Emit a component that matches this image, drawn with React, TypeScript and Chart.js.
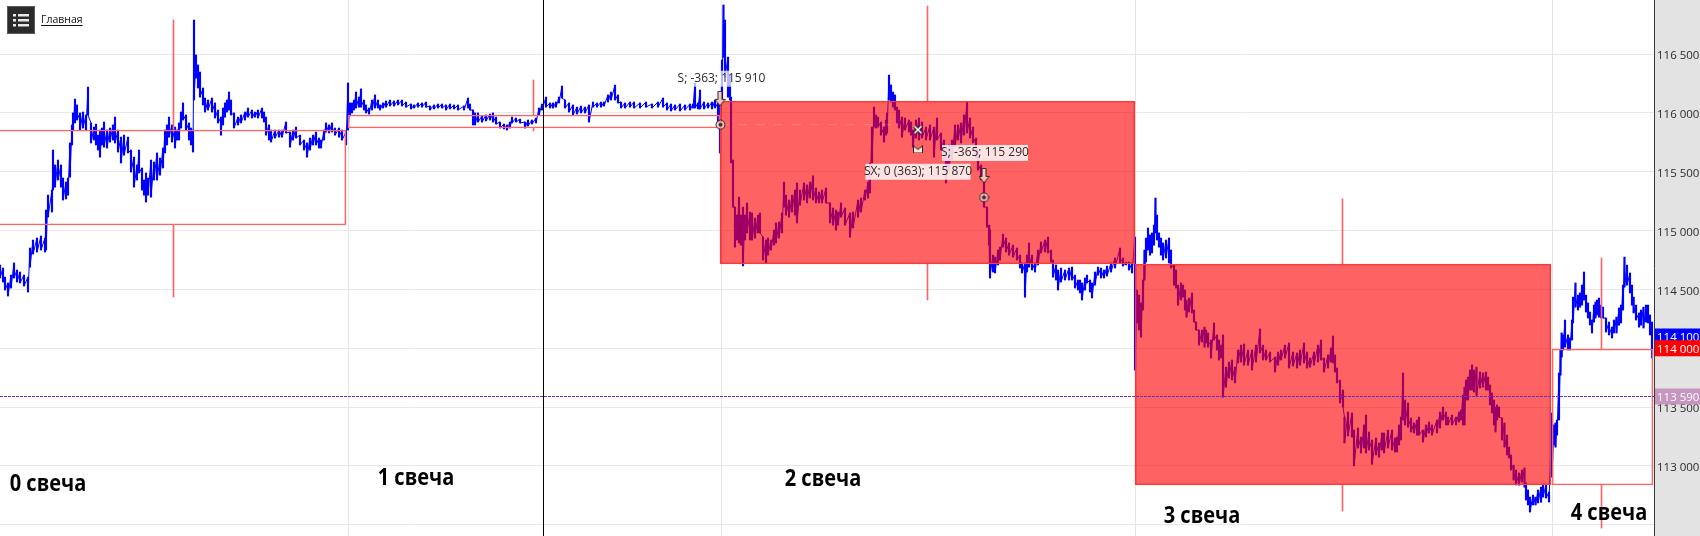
import React, { useEffect, useRef } from "react";
import { Chart, registerables } from "chart.js";

Chart.register(...registerables);

// [time, high, low]
const candle0Trace = [[0,114708,114597],[3,114682,114563],[5,114605,114495],[8,114555,114444],[11,114622,114512],[14,114725,114597],[17,114665,114563],[20,114648,114555],[24,114622,114529],[28,114605,114478],[30,114852,114690],[33,114920,114801],[37,114937,114818],[41,114954,114835],[45,114937,114818],[46,115175,114835],[48,115302,115116],[52,115345,115158],[53,115685,115345],[55,115558,115370],[58,115600,115430],[61,115558,115370],[63,115447,115260],[66,115413,115269],[68,115447,115302],[70,115745,115455],[72,115898,115728],[73,116000,115855],[75,116118,115915],[77,116068,115940],[80,116000,115855],[83,116008,115872],[86,115983,115855],[88,116220,115983],[91,115915,115745],[94,115880,115770],[96,115905,115728],[98,115812,115685],[100,115855,115625],[102,115872,115728],[104,115923,115710],[107,115855,115702],[110,115872,115753],[113,115898,115770],[115,115965,115745],[118,115855,115668],[121,115795,115575],[124,115812,115642],[128,115795,115660],[131,115685,115498],[134,115625,115370],[137,115558,115430],[139,115685,115490],[142,115532,115345],[144,115430,115302],[146,115490,115243],[148,115447,115302],[151,115600,115285],[154,115583,115430],[157,115660,115430],[160,115617,115472],[163,115702,115532],[165,115855,115660],[167,115898,115728],[169,115965,115795],[172,115898,115753],[175,115880,115702],[177,115855,115770],[179,115915,115770],[181,116008,115872],[183,116085,115940],[186,115983,115855],[189,115915,115770],[191,115872,115728],[193,115855,115668],[194,116790,116110],[196,116493,116297],[198,116408,116212],[200,116348,116135],[203,116212,116068],[205,116127,116008],[208,116110,116025],[212,116127,116008],[215,116085,115957],[218,116025,115915],[221,115965,115812],[223,116042,115898],[225,116085,115965],[227,116110,116008],[229,116178,116025],[231,116110,115983],[234,116000,115872],[238,115965,115898],[241,115983,115915],[245,116008,115940],[248,116042,115965],[252,116025,115957],[255,116008,115965],[258,116025,115957],[262,116042,115957],[264,116008,115923],[266,115965,115812],[269,115898,115770],[271,115855,115753],[275,115855,115787],[279,115855,115795],[282,115855,115795],[286,115923,115830],[290,115838,115710],[293,115855,115770],[296,115880,115787],[300,115812,115728],[304,115770,115685],[307,115745,115625],[310,115787,115685],[313,115812,115728],[316,115838,115728],[319,115787,115702],[321,115770,115702],[324,115855,115770],[326,115915,115838],[329,115898,115830],[332,115915,115838],[335,115872,115812],[339,115872,115795],[342,115855,115770],[346,115838,115728]];

const candle1Trace = [[348,116255,115855],[350,116085,115975],[352,116085,116000],[354,116110,116025],[356,116178,116042],[359,116135,116050],[361,116204,116050],[364,116110,116025],[366,116068,116000],[369,116042,115991],[372,116110,116025],[375,116153,116042],[378,116110,116042],[380,116068,116025],[383,116085,116042],[386,116102,116050],[390,116110,116059],[394,116102,116059],[398,116110,116068],[402,116110,116059],[406,116093,116050],[411,116076,116034],[414,116068,116042],[418,116085,116050],[422,116085,116050],[426,116093,116050],[430,116059,116025],[434,116068,116034],[438,116076,116042],[442,116076,116042],[446,116068,116025],[450,116076,116034],[454,116068,116034],[458,116068,116025],[464,116059,116025],[468,116127,116042],[470,116076,116025],[473,116025,115898],[475,116000,115898],[478,116000,115923],[482,115974,115923],[486,115983,115932],[490,115991,115940],[493,116000,115923],[496,115965,115906],[500,115923,115872],[504,115906,115864],[507,115898,115855],[510,115923,115872],[512,115965,115915],[516,115957,115923],[520,115948,115915],[525,115923,115872],[528,115940,115889],[532,115940,115906],[536,115957,115915],[539,116042,115983],[542,116076,116025],[546,116135,116050],[550,116085,116042],[553,116085,116042],[556,116093,116050],[559,116135,116085],[562,116229,116127],[565,116110,116042],[569,116085,116008],[573,116068,115983],[577,116050,115991],[581,116059,116000],[585,116050,116000],[589,116068,115923],[593,116093,116050],[597,116085,116050],[601,116093,116050],[604,116093,116059],[608,116153,116093],[611,116178,116110],[615,116237,116110],[618,116153,116085],[621,116093,116042],[625,116085,116042],[630,116093,116050],[634,116093,116042],[640,116085,116042],[646,116093,116050],[652,116076,116042],[658,116093,116050],[663,116127,116050],[667,116085,116025],[671,116076,116017],[675,116068,116025],[680,116076,116017],[685,116068,116025],[690,116076,116025],[693,116076,116042],[695,116255,116042],[698,116085,116034],[700,116195,116034],[704,116093,116034],[708,116085,116042],[712,116093,116034],[715,116110,116042],[718,116085,115923]];

const candle2Trace = [[720,116135,115660],[722,116450,116110],[723.5,116918,116475],[725,116790,116305],[728,116475,116135],[730,116322,116110],[731,116135,115575],[733,115600,115200],[735,115200,114860],[737,115132,114920],[739,115285,114895],[741,115132,114877],[743,115200,114700],[745,115132,114920],[747,115235,114980],[750,115158,114920],[752,115150,114920],[755,115107,114937],[758,115132,114980],[760,115150,114980],[763,114945,114750],[766,114920,114725],[768,114937,114792],[771,114920,114835],[774,115005,114877],[776,115065,114895],[779,115073,114937],[782,115150,114980],[784,115413,115200],[786,115302,115132],[789,115260,115115],[792,115302,115158],[795,115345,115132],[797,115405,115065],[800,115345,115217],[804,115405,115260],[807,115388,115235],[810,115413,115277],[813,115465,115260],[816,115362,115235],[819,115328,115235],[822,115345,115235],[826,115362,115235],[830,115235,115065],[833,115192,115047],[836,115175,115005],[838,115158,115047],[841,115235,115115],[845,115192,115047],[850,115150,114945],[853,115158,115022],[858,115260,115115],[861,115277,115158],[865,115345,115260],[868,115413,115277],[870,115575,115320],[872,115880,115575],[874,116050,115880],[876,115983,115872],[878,115965,115880],[881,115923,115812],[884,115880,115753],[886,115940,115812],[887,116000,115830],[889,116322,116110],[891,116238,116093],[893,116178,116050],[895,116153,116025],[897,116050,115915],[899,116025,115872],[902,115965,115795],[905,115957,115855],[909,115940,115838],[911,115923,115812],[913,115855,115710],[916,115940,115787],[919,115957,115770],[922,115923,115787],[926,115880,115770],[930,115898,115770],[934,115880,115625],[937,115957,115770],[941,115830,115685],[944,115770,115600],[946,115685,115405],[949,115728,115515],[952,115770,115600],[955,115898,115710],[958,115898,115770],[961,115915,115745],[964,115983,115812],[967,116093,115830],[970,115957,115787],[973,115880,115745],[976,115787,115617],[978,115685,115515],[981,115558,115430],[984,115455,115200],[987,115200,115030],[989,115047,114877],[990,115005,114597],[993,114792,114648],[995,114775,114640],[998,114835,114708],[1000,114860,114750],[1003,114970,114860],[1006,114937,114818],[1009,114895,114792],[1013,114877,114775],[1017,114852,114750],[1020,114792,114682],[1022,114725,114640],[1025,114725,114435],[1027,114792,114648],[1029,114895,114690],[1032,114792,114665],[1035,114725,114648],[1038,114835,114708],[1041,114903,114810],[1045,114920,114818],[1048,114945,114810],[1051,114835,114733],[1053,114750,114605],[1056,114708,114580],[1058,114665,114495],[1061,114682,114563],[1065,114665,114580],[1069,114682,114580],[1072,114690,114580],[1075,114622,114512],[1078,114580,114495],[1080,114580,114470],[1082,114555,114410],[1085,114597,114495],[1087,114622,114555],[1090,114580,114478],[1092,114555,114427],[1095,114648,114537],[1098,114690,114622],[1101,114682,114597],[1104,114665,114597],[1107,114699,114614],[1111,114725,114648],[1115,114767,114682],[1120,114852,114725],[1123,114767,114699],[1126,114733,114708],[1129,114733,114665],[1132,114725,114640]];

const candle3Trace = [[1135,114945,113815],[1137,114495,114215],[1139,114452,114155],[1141,114385,114095],[1143,114580,114325],[1144.5,114835,114580],[1146,114937,114733],[1148,115022,114835],[1150,114963,114792],[1152,114980,114810],[1154,115047,114877],[1155.5,115277,114980],[1157,115132,114920],[1159,114980,114860],[1161,114937,114792],[1163,114895,114750],[1166,114920,114767],[1169,114937,114725],[1171,114835,114682],[1174,114707,114537],[1176,114665,114512],[1178,114537,114367],[1181,114555,114410],[1183,114537,114435],[1185,114495,114325],[1186.5,114410,114265],[1189,114427,114308],[1192,114470,114300],[1194,114325,114223],[1196,114223,114155],[1199,114155,114027],[1202,114155,114053],[1204.5,114180,114010],[1206,114155,114045],[1208,114130,114010],[1211,114070,113917],[1214,114215,114070],[1217,114113,113985],[1219,114070,113900],[1221,114027,113917],[1223,114113,113585],[1226,113840,113670],[1229,113883,113747],[1232,113900,113730],[1235,113840,113705],[1238,113985,113875],[1241,114027,113883],[1244,114036,113857],[1248,113985,113857],[1252,113985,113815],[1256,114027,113883],[1260,114164,113960],[1263,114027,113900],[1266,113985,113900],[1270,113968,113883],[1275,113925,113798],[1278,113968,113857],[1281,113985,113900],[1285,114027,113917],[1289,114045,113832],[1293,113968,113849],[1297,113960,113832],[1300,113985,113857],[1304,114045,113875],[1307,113968,113832],[1310,113917,113840],[1314,113968,113857],[1318,114027,113883],[1321,114070,113900],[1324,113917,113798],[1328,113943,113832],[1331,114002,113883],[1333,114104,113875],[1335,113943,113798],[1337,113832,113705],[1340,113730,113535],[1343,113645,113500],[1344.5,113415,113195],[1348,113458,113254],[1352,113450,113245],[1354,113305,113000],[1358,113322,113152],[1361,113245,113110],[1364,113348,113152],[1366,113432,113110],[1369,113288,113135],[1372,113220,113015],[1376,113237,113093],[1379,113195,113075],[1382,113280,113135],[1384,113280,113110],[1388,113305,113152],[1392,113305,113135],[1395,113237,113118],[1397,113245,113118],[1399,113348,113178],[1401,113415,113220],[1403,113790,113390],[1405,113560,113348],[1408,113535,113330],[1411,113407,113288],[1414,113365,113280],[1417,113390,113262],[1419,113415,113262],[1423,113305,113203],[1426,113348,113246],[1429,113373,113280],[1432,113348,113262],[1437,113390,113280],[1440,113458,113322],[1443,113500,113390],[1446,113458,113348],[1448,113415,113348],[1452,113432,113348],[1456,113415,113348],[1459,113458,113373],[1461,113475,113390],[1463,113603,113348],[1464.5,113670,113348],[1466,113730,113560],[1468,113755,113560],[1470,113815,113645],[1472,113858,113645],[1474,113815,113628],[1476.5,113840,113594],[1480,113798,113662],[1483,113790,113670],[1486,113798,113645],[1488,113755,113645],[1490,113688,113518],[1492,113620,113450],[1494,113560,113348],[1495.5,113500,113288],[1497,113518,113390],[1499,113500,113415],[1502,113407,113220],[1504.5,113365,113160],[1507,113262,113093],[1509,113160,113067],[1511,113093,112965],[1513.6,113007,112880],[1516,112965,112838],[1519,112940,112837],[1522,112965,112863],[1524.5,112982,112820],[1526,112855,112710],[1528,112795,112668],[1530,112735,112608],[1533,112752,112668],[1535.5,112735,112668],[1538,112795,112685],[1541,112820,112692],[1543,112837,112735],[1546,112837,112727],[1549,112778,112693]];

const candle4Trace = [[1552,113450,112905],[1554,113348,113178],[1555.5,113365,113160],[1557,113390,113262],[1559,113790,113390],[1560.5,113985,113772],[1561.6,114130,113925],[1563,114113,113985],[1565,114240,114010],[1568,114113,113985],[1570,114087,113985],[1572,114240,114070],[1573,114435,114215],[1575.5,114555,114350],[1578,114452,114325],[1580,114470,114350],[1582,114537,114367],[1584,114648,114410],[1586,114452,114308],[1588,114385,114257],[1590,114308,114198],[1592,114240,114130],[1594,114367,114223],[1595.5,114393,114257],[1597,114410,114283],[1599,114427,114265],[1601,114367,114257],[1603,114350,114257],[1606,114257,114138],[1609,114223,114113],[1612,114180,114087],[1614,114240,114130],[1616.5,114265,114130],[1619,114342,114197],[1621,114367,114215],[1623,114537,114325],[1624.5,114775,114520],[1627,114707,114537],[1630,114640,114470],[1632,114537,114367],[1633.6,114435,114300],[1636,114367,114240],[1639,114300,114180],[1641,114325,114197],[1643.5,114350,114172],[1646,114367,114223],[1648,114367,114215],[1650,114283,114113],[1652,114223,113917]];

const candleStart = [-2, 348, 720, 1135, 1552];
const candleEnd = [346, 720, 1135, 1551, 1653];
const candleTop = [115855, 115983, 116102, 114716, 113994];
const candleBottom = [115048, 115872, 114716, 112838, 112838];
const candleHigh = [116790, 116280, 116909, 115269, 114767];
const candleLow = [114436, 115847, 114410, 112617, 112472];
const candleWickTime = [173.5, 533.5, 927.5, 1342.5, 1601.5];
const candleBear = [false, false, true, true, false];

const priceTicks = [112500, 113000, 113500, 114000, 114500, 115000, 115500, 116000, 116500];
const hiddenTickLabels = [112500];
const timeGrid = [348, 721, 1135, 1552];

const axisMin = 112404.25;
const axisMax = 116960.25;
const timeMax = 1654;

const cursorTime = 543;
const levelPrice = 113590;

const tradeLink = [[720, 115900], [892, 115900]];

const arrowPoints = [[720, 116120], [984, 115465]];
const targetPoints = [[720.5, 115900], [984, 115283]];
const crossPoints = [[918, 115858]];
const crownPoints = [[918, 115690]];

const tradeLabels = [
  { text: "S; -363; 115 910", time: 721.5, price: 116291, bg: "rgba(255,255,255,0.72)", w: 86 },
  { text: "SX; 0 (363); 115 870", time: 918, price: 115500, bg: "rgba(255,255,255,0.82)", w: 105 },
  { text: "S; -365; 115 290", time: 985, price: 115660, bg: "rgba(255,255,255,0.82)", w: 86 },
];
const candleNames = [
  { text: "0 свеча", time: 48, price: 112846 },
  { text: "1 свеча", time: 416, price: 112897 },
  { text: "2 свеча", time: 823, price: 112889 },
  { text: "3 свеча", time: 1202, price: 112574 },
  { text: "4 свеча", time: 1609, price: 112600 },
];
const priceTags = [
  { text: "114 100", price: 114100, bg: "#0000ff" },
  { text: "114 000", price: 114000, bg: "#ff0000" },
  { text: "113 590", price: 113590, bg: "#c795c0" },
];
const homeLabel = "Главная";

const fmt = (v: number) => {
  const s = String(Math.round(v));
  return s.slice(0, s.length - 3) + " " + s.slice(-3);
};

const allTrace = () => [...candle0Trace, ...candle1Trace, ...candle2Trace, ...candle3Trace, ...candle4Trace];

function buildTrace() {
  const pts: { x: number; y: number }[] = [];
  allTrace().forEach(([t, hi, lo]) => {
    pts.push({ x: t, y: hi }, { x: t, y: lo });
  });
  return pts;
}

function mk(w: number, h: number, draw: (c: CanvasRenderingContext2D) => void) {
  const cv = document.createElement("canvas");
  cv.width = w;
  cv.height = h;
  draw(cv.getContext("2d")!);
  return cv;
}

const arrowIcon = () =>
  mk(11, 16, (c) => {
    c.beginPath();
    c.moveTo(3.5, 0.5);
    c.lineTo(7.5, 0.5);
    c.lineTo(7.5, 8.5);
    c.lineTo(10.5, 8.5);
    c.lineTo(5.5, 15);
    c.lineTo(0.5, 8.5);
    c.lineTo(3.5, 8.5);
    c.closePath();
    c.fillStyle = "rgba(255,205,195,0.95)";
    c.fill();
    c.strokeStyle = "#222";
    c.lineWidth = 1;
    c.stroke();
  });
const targetIcon = () =>
  mk(11, 11, (c) => {
    c.beginPath();
    c.arc(5.5, 5.5, 4.5, 0, Math.PI * 2);
    c.fillStyle = "rgba(255,200,200,0.8)";
    c.fill();
    c.strokeStyle = "#222";
    c.lineWidth = 1;
    c.stroke();
    c.beginPath();
    c.arc(5.5, 5.5, 2, 0, Math.PI * 2);
    c.fillStyle = "#333";
    c.fill();
  });
const crossIcon = () =>
  mk(10, 10, (c) => {
    c.strokeStyle = "#222";
    c.lineWidth = 3.4;
    c.beginPath();
    c.moveTo(1.5, 1.5);
    c.lineTo(8.5, 8.5);
    c.moveTo(8.5, 1.5);
    c.lineTo(1.5, 8.5);
    c.stroke();
    c.strokeStyle = "#fff";
    c.lineWidth = 1.6;
    c.stroke();
  });
const crownIcon = () =>
  mk(10, 8, (c) => {
    c.beginPath();
    c.moveTo(0.5, 0.5);
    c.lineTo(5, 4);
    c.lineTo(9.5, 0.5);
    c.lineTo(9.5, 7.5);
    c.lineTo(0.5, 7.5);
    c.closePath();
    c.fillStyle = "#ffe9e0";
    c.fill();
    c.strokeStyle = "#222";
    c.lineWidth = 1;
    c.stroke();
  });

const overlayPlugin = {
  id: "overlay",
  beforeDraw(chart: any) {
    const { ctx, chartArea } = chart;
    ctx.save();
    ctx.fillStyle = "#ffffff";
    ctx.fillRect(0, 0, chart.width, chart.height);
    ctx.fillStyle = "#e3e3e3";
    ctx.fillRect(chartArea.right, 0, chart.width - chartArea.right, chart.height);
    ctx.restore();
  },
  afterDatasetsDraw(chart: any) {
    const { ctx, scales, chartArea } = chart;
    const sx = scales.x;
    const sy = scales.y;
    ctx.save();
    ctx.textBaseline = "middle";
    ctx.font = '12px "Open Sans"';
    ctx.textAlign = "center";
    tradeLabels.forEach((l) => {
      const x = sx.getPixelForValue(l.time);
      const y = sy.getPixelForValue(l.price);
      ctx.fillStyle = l.bg;
      ctx.fillRect(x - l.w / 2, y - 8, l.w, 16);
      ctx.fillStyle = "#2b2b2b";
      ctx.fillText(l.text, x, y);
    });
    ctx.font = '700 23px "Open Sans"';
    ctx.fillStyle = "#000";
    candleNames.forEach((l) => {
      ctx.save();
      ctx.translate(sx.getPixelForValue(l.time), sy.getPixelForValue(l.price));
      ctx.scale(0.87, 1);
      ctx.fillText(l.text, 0, 0);
      ctx.restore();
    });
    ctx.font = '11.5px "Open Sans"';
    ctx.textAlign = "left";
    priceTags.forEach((t) => {
      const y = sy.getPixelForValue(t.price);
      ctx.fillStyle = t.bg;
      ctx.fillRect(chartArea.right + 1, y - 8, chart.width - chartArea.right - 1, 16);
      ctx.fillStyle = "#fff";
      ctx.fillText(t.text, chartArea.right + 3, y + 1);
    });
    ctx.fillStyle = "#2a2a2a";
    ctx.fillRect(7, 6, 28, 28);
    ctx.strokeStyle = "#5c5c5c";
    ctx.lineWidth = 1;
    ctx.strokeRect(7.5, 6.5, 27, 27);
    ctx.fillStyle = "#e8e8e8";
    [14, 19, 24].forEach((y) => {
      ctx.fillRect(13, y, 3, 2.5);
      ctx.fillRect(18, y, 11, 2.5);
    });
    ctx.font = '10.5px "Open Sans"';
    ctx.fillStyle = "#111";
    ctx.fillText(homeLabel, 41, 20);
    const w = ctx.measureText(homeLabel).width;
    ctx.fillRect(41, 25, w, 1);
    ctx.restore();
  },
};

const zeroPad = (s: any) => {
  s.paddingTop = 0;
  s.paddingBottom = 0;
  s.paddingLeft = 0;
  s.paddingRight = 0;
};

export default function App() {
  const ref = useRef<HTMLCanvasElement | null>(null);
  useEffect(() => {
    document.body.style.margin = "0";
    const candleSets = candleStart.map((s, i) => ({
      type: "bar" as const,
      label: "candle " + i,
      data: [{ x: (s + candleEnd[i]) / 2, y: [candleBottom[i], candleTop[i]] }],
      barThickness: candleEnd[i] - s,
      grouped: false,
      backgroundColor: candleBear[i] ? "rgba(255,0,0,0.616)" : "rgba(255,255,255,0)",
      borderColor: candleBear[i] ? "#f24a4a" : "#ff6464",
      borderWidth: 1,
      borderSkipped: false,
      order: 2,
    }));
    const wickData: { x: number; y: number[] }[] = [];
    candleWickTime.forEach((t, i) => {
      wickData.push({ x: t, y: [candleTop[i], candleHigh[i]] });
      wickData.push({ x: t, y: [candleLow[i], candleBottom[i]] });
    });
    const chart = new Chart(ref.current!, {
      type: "bar",
      data: {
        datasets: [
          ...candleSets,
          {
            type: "bar" as const,
            label: "wicks",
            data: wickData,
            barThickness: 1,
            grouped: false,
            backgroundColor: "#ff6464",
            order: 2,
          },
          {
            type: "bar" as const,
            label: "range",
            data: allTrace().map(([t, hi, lo]) => ({ x: t, y: [lo, hi] })),
            barThickness: 1.5,
            grouped: false,
            backgroundColor: "#0000ff",
            order: 4,
          },
          {
            type: "line" as const,
            label: "price",
            data: buildTrace(),
            borderColor: "#0000ff",
            borderWidth: 1,
            pointRadius: 0,
            tension: 0,
            order: 4,
          },
          {
            type: "line" as const,
            label: "cursor",
            data: [
              { x: cursorTime + 0.5, y: axisMin },
              { x: cursorTime + 0.5, y: axisMax },
            ],
            borderColor: "#000",
            borderWidth: 1,
            pointRadius: 0,
            order: 1,
          },
          {
            type: "line" as const,
            label: "level",
            data: [
              { x: 0, y: levelPrice },
              { x: timeMax, y: levelPrice },
            ],
            borderColor: "#6a2fc4",
            borderWidth: 1,
            borderDash: [3, 1],
            pointRadius: 0,
            order: 1,
          },
          {
            type: "line" as const,
            label: "link",
            data: tradeLink.map(([x, y]) => ({ x, y })),
            borderColor: "rgba(255,255,255,0.2)",
            borderWidth: 1,
            borderDash: [9, 9],
            pointRadius: 0,
            order: 1,
          },
          {
            type: "scatter" as const,
            label: "arrows",
            data: arrowPoints.map(([x, y]) => ({ x, y })),
            pointStyle: arrowIcon(),
            order: 0,
          },
          {
            type: "scatter" as const,
            label: "targets",
            data: targetPoints.map(([x, y]) => ({ x, y })),
            pointStyle: targetIcon(),
            order: 0,
          },
          {
            type: "scatter" as const,
            label: "cross",
            data: crossPoints.map(([x, y]) => ({ x, y })),
            pointStyle: crossIcon(),
            order: 0,
          },
          {
            type: "scatter" as const,
            label: "crown",
            data: crownPoints.map(([x, y]) => ({ x, y })),
            pointStyle: crownIcon(),
            order: 0,
          },
        ] as any,
      },
      options: {
        animation: false,
        responsive: false,
        layout: { padding: 0, autoPadding: false },
        plugins: { legend: { display: false }, tooltip: { enabled: false } },
        scales: {
          x: {
            type: "linear",
            min: 0,
            max: timeMax,
            offset: false,
            afterBuildTicks: (s: any) => {
              s.ticks = timeGrid.map((value) => ({ value }));
            },
            afterFit: (s: any) => {
              s.height = 0;
              zeroPad(s);
            },
            ticks: { display: false },
            border: { display: false },
            grid: { color: "#e6e6e6", drawTicks: false, lineWidth: 1, offset: false },
          },
          y: {
            type: "linear",
            position: "right",
            min: axisMin,
            max: axisMax,
            afterBuildTicks: (s: any) => {
              s.ticks = priceTicks.map((value) => ({ value }));
            },
            afterFit: (s: any) => {
              s.width = 46;
              zeroPad(s);
            },
            ticks: {
              padding: 3,
              labelOffset: 2,
              color: "#2b2b2b",
              font: { family: '"Open Sans"', size: 11.5 },
              callback: (v: any) => (hiddenTickLabels.includes(v) ? "" : fmt(v)),
            },
            border: { color: "#3a3a3a", width: 1 },
            grid: { color: "#e8e8e8", drawTicks: false, lineWidth: 1 },
          },
        },
      } as any,
      plugins: [overlayPlugin],
    });
    return () => chart.destroy();
  }, []);
  return <canvas ref={ref} width={1700} height={536} style={{ display: "block" }} />;
}
